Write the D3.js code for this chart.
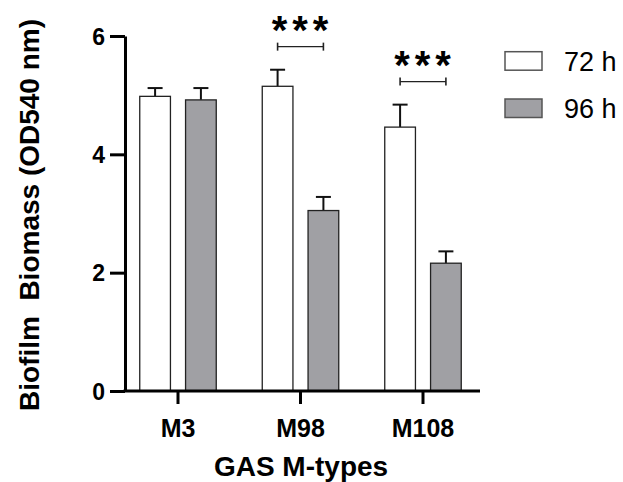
<!DOCTYPE html>
<html>
<head>
<meta charset="utf-8">
<script src="https://cdn.jsdelivr.net/npm/d3@7"></script>
<style>
    body { margin: 0; background: #fff; }
    text { font-family: Arial, "Liberation Sans", sans-serif; }
</style>
</head>
<body>
<div class="chart"></div>
<script>
/* Biofilm biomass bar chart */

var categories = ["M3", "M98", "M108"];
var series = ["72 h", "96 h"];
var means72 = [4.98, 5.15, 4.46];
var means96 = [4.92, 3.05, 2.16];
var sem72 = [0.14, 0.28, 0.38];
var sem96 = [0.20, 0.23, 0.20];
var yTicks = [0, 2, 4, 6];
var significance = [
    { category: "M98", label: "***" },
    { category: "M108", label: "***" }
];

var colorFill = { "72 h": "#ffffff", "96 h": "#a0a0a4" };

function drawChart() {
    var w = 623;
    var h = 482;

    var svg = d3.select(".chart")
        .append("svg")
        .attr("width", w)
        .attr("height", h);

    var y = d3.scaleLinear()
        .domain([0, 6])
        .range([391, 36]);

    var x = d3.scaleBand()
        .domain(categories)
        .range([116.75, 484.25]);

    var xSub = d3.scaleBand()
        .domain(series)
        .range([-38.25, 38.25])
        .paddingInner(0.33);

    // flat list of bars
    var bars = [];
    categories.forEach(function (c, i) {
        bars.push({ category: c, serie: "72 h", mean: means72[i], sem: sem72[i] });
        bars.push({ category: c, serie: "96 h", mean: means96[i], sem: sem96[i] });
    });

    function barX(d) {
        return x(d.category) + x.bandwidth() / 2 + xSub(d.serie);
    }

    // error bars (upper only)
    var err = svg.append("g").attr("class", "errors");
    err.selectAll("line.stem")
        .data(bars)
        .enter()
        .append("line")
        .attr("x1", function (d) { return barX(d) + xSub.bandwidth() / 2; })
        .attr("x2", function (d) { return barX(d) + xSub.bandwidth() / 2; })
        .attr("y1", function (d) { return y(d.mean); })
        .attr("y2", function (d) { return y(d.mean + d.sem); })
        .attr("stroke", "#111")
        .attr("stroke-width", 2);
    err.selectAll("line.cap")
        .data(bars)
        .enter()
        .append("line")
        .attr("x1", function (d) { return barX(d) + xSub.bandwidth() / 2 - 7.5; })
        .attr("x2", function (d) { return barX(d) + xSub.bandwidth() / 2 + 7.5; })
        .attr("y1", function (d) { return y(d.mean + d.sem); })
        .attr("y2", function (d) { return y(d.mean + d.sem); })
        .attr("stroke", "#111")
        .attr("stroke-width", 2);

    // bars
    svg.append("g").selectAll("rect")
        .data(bars)
        .enter()
        .append("rect")
        .attr("x", barX)
        .attr("y", function (d) { return y(d.mean); })
        .attr("width", xSub.bandwidth())
        .attr("height", function (d) { return y(0) - y(d.mean); })
        .attr("fill", function (d) { return colorFill[d.serie]; })
        .attr("stroke", "#222")
        .attr("stroke-width", 1.3);

    // Y axis
    var yAxis = svg.append("g")
        .attr("transform", "translate(125,0)")
        .call(d3.axisLeft(y).tickValues(yTicks).tickFormat(d3.format("d"))
            .tickSize(15).tickSizeOuter(0).tickPadding(5));
    yAxis.selectAll("path, line").attr("stroke", "#000").attr("stroke-width", 3);
    yAxis.selectAll("text")
        .attr("font-size", 23)
        .attr("font-weight", "bold")
        .attr("fill", "#000")
        .attr("dy", "0.36em");

    // X axis
    var xAxis = svg.append("g")
        .attr("transform", "translate(0," + y(0) + ")")
        .call(d3.axisBottom(x).tickSize(13).tickPadding(10));
    xAxis.select(".domain").remove();
    xAxis.selectAll("line").attr("stroke", "#000").attr("stroke-width", 3);
    xAxis.selectAll("text")
        .attr("font-size", 25)
        .attr("font-weight", "bold")
        .attr("fill", "#000")
        .attr("dy", "0.9em");
    svg.append("line")
        .attr("x1", 123.5)
        .attr("x2", 480)
        .attr("y1", y(0))
        .attr("y2", y(0))
        .attr("stroke", "#000")
        .attr("stroke-width", 3);

    // axis titles
    svg.append("text")
        .attr("x", 301)
        .attr("y", 476)
        .attr("text-anchor", "middle")
        .attr("font-size", 28)
        .attr("font-weight", "bold")
        .text("GAS M-types");

    svg.append("text")
        .attr("transform", "translate(38.5,215) rotate(-90)")
        .attr("text-anchor", "middle")
        .attr("font-size", 28)
        .attr("font-weight", "bold")
        .attr("xml:space", "preserve")
        .style("white-space", "pre")
        .text("Biofilm  Biomass (OD540 nm)");

    // significance brackets
    var sig = svg.append("g").attr("class", "sig");
    significance.forEach(function (s) {
        var i = categories.indexOf(s.category);
        var top = Math.max(means72[i] + sem72[i], means96[i] + sem96[i]) + 0.39;
        var x1 = x(s.category) + x.bandwidth() / 2 + xSub("72 h") + xSub.bandwidth() / 2;
        var x2 = x(s.category) + x.bandwidth() / 2 + xSub("96 h") + xSub.bandwidth() / 2;
        var yy = y(top);
        sig.append("line")
            .attr("x1", x1).attr("x2", x2)
            .attr("y1", yy).attr("y2", yy)
            .attr("stroke", "#222").attr("stroke-width", 1.3);
        [x1, x2].forEach(function (xx) {
            sig.append("line")
                .attr("x1", xx).attr("x2", xx)
                .attr("y1", yy - 4).attr("y2", yy + 4)
                .attr("stroke", "#222").attr("stroke-width", 1.6);
        });
        sig.append("text")
            .attr("x", (x1 + x2) / 2 + 2)
            .attr("y", yy - 3)
            .attr("text-anchor", "middle")
            .attr("font-size", 40)
            .attr("font-weight", "bold")
            .attr("letter-spacing", 5)
            .text(s.label);
    });

    // legend
    var legend = svg.append("g").attr("class", "legend");
    series.forEach(function (s, i) {
        var ly = 51.7 + i * 47.3;
        legend.append("rect")
            .attr("x", 505)
            .attr("y", ly)
            .attr("width", 37)
            .attr("height", 18.5)
            .attr("fill", colorFill[s])
            .attr("stroke", "#555")
            .attr("stroke-width", 1.5);
        legend.append("text")
            .attr("x", 564)
            .attr("y", ly + 19)
            .attr("font-size", 27)
            .attr("fill", "#000")
            .text(s);
    });
}

document.addEventListener("DOMContentLoaded", function () {
    drawChart();
});
</script>
</body>
</html>
